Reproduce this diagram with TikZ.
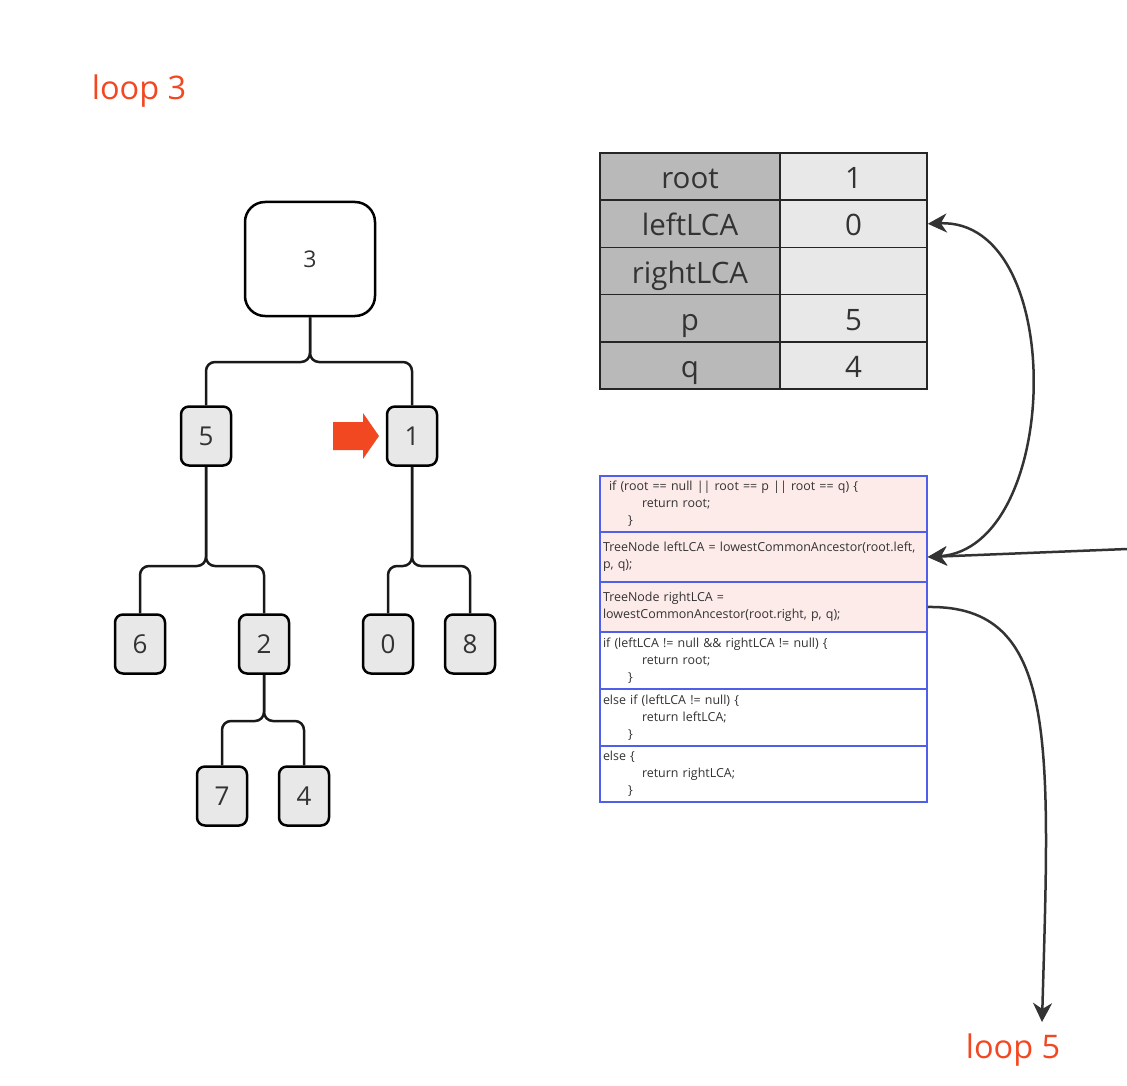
\documentclass[tikz,border=0pt]{standalone}
\usepackage{fontspec}
\setmainfont{Open Sans}
\usetikzlibrary{arrows.meta}
\definecolor{loopred}{HTML}{F24822}
\definecolor{nodegray}{HTML}{E8E8E8}
\definecolor{keygray}{HTML}{B9B9B9}
\definecolor{txt}{HTML}{333333}
\definecolor{pinkrow}{HTML}{FDEBEA}
\definecolor{codeblue}{HTML}{4F5FE8}
\definecolor{arrgray}{HTML}{333333}
\tikzset{
  tnode/.style={draw=black, line width=2.5pt, rounded corners=8pt, fill=nodegray,
    minimum width=50pt, minimum height=59pt, inner sep=0pt, text=txt,
    font=\fontsize{26}{30}\selectfont},
  rootnode/.style={tnode, rounded corners=20pt, fill=white, minimum width=130pt, minimum height=114pt,
    font=\fontsize{23}{26}\selectfont},
  branch/.style={draw=black!90, line width=2.5pt, rounded corners=9pt},
  kcell/.style={draw=black!85, line width=1.5pt, fill=keygray, minimum width=180pt, minimum height=47.2pt,
    inner sep=0pt, text=txt, font=\fontsize{29.5}{32}\selectfont, text height=30pt, text depth=6pt},
  vcell/.style={kcell, fill=nodegray, minimum width=147pt},
  crow/.style={draw=codeblue, line width=1.5pt, minimum width=327pt, text width=321pt, inner xsep=3pt,
    inner ysep=0pt, align=left, text=txt, font=\fontsize{12.45}{17}\selectfont},
  looplabel/.style={text=loopred, font=\fontsize{32.5}{36}\selectfont, inner sep=0pt},
  arr/.style={draw=arrgray, line width=2.5pt},
  >={Stealth[length=19pt, width=19pt, inset=6pt]}
}
\begin{document}
\begin{tikzpicture}[x=1pt,y=-1pt]
\useasboundingbox (0,0) rectangle (1127,1086);

% labels
\node[looplabel] (loop3) at (139,91) {loop 3};
\node[looplabel] (loop5) at (1013,1050) {loop 5};

% tree
\node[rootnode] (n3) at (310,259) {3};
\node[tnode] (n5) at (206,436) {5};
\node[tnode] (n1) at (412,436) {1};
\node[tnode] (n6) at (140,644) {6};
\node[tnode] (n2) at (264,644) {2};
\node[tnode] (n0) at (388,644) {0};
\node[tnode] (n8) at (470,644) {8};
\node[tnode] (n7) at (222,796) {7};
\node[tnode] (n4) at (304,796) {4};

\draw[branch] (n3.south) -- (310,362) -- (206,362) -- (n5.north);
\draw[branch] (n3.south) -- (310,362) -- (412,362) -- (n1.north);
\draw[branch] (n5.south) -- (206,566) -- (140,566) -- (n6.north);
\draw[branch] (n5.south) -- (206,566) -- (264,566) -- (n2.north);
\draw[branch] (n1.south) -- (412,566) -- (388,566) -- (n0.north);
\draw[branch] (n1.south) -- (412,566) -- (470,566) -- (n8.north);
\draw[branch] (n2.south) -- (264,721) -- (222,721) -- (n7.north);
\draw[branch] (n2.south) -- (264,721) -- (304,721) -- (n4.north);

% red pointer arrow
\fill[loopred] (333,422) -- (363,422) -- (363,413) -- (379,436) -- (363,459) -- (363,450) -- (333,450) -- cycle;

% variable table
\node[kcell] (k1) at (690,176.6) {root};
\node[vcell] (v1) at (853.5,176.6) {1};
\node[kcell] (k2) at (690,223.8) {leftLCA};
\node[vcell] (v2) at (853.5,223.8) {0};
\node[kcell] (k3) at (690,271) {rightLCA};
\node[vcell] (v3) at (853.5,271) {};
\node[kcell] (k4) at (690,318.2) {p};
\node[vcell] (v4) at (853.5,318.2) {5};
\node[kcell] (k5) at (690,365.4) {q};
\node[vcell] (v5) at (853.5,365.4) {4};

% code box
\node[crow, fill=pinkrow, minimum height=56pt] (c1) at (763.5,504) {\hspace*{6pt}if (root == null || root == p || root == q) \{\\\hspace*{39pt}return root;\\\hspace*{25pt}\}};
\node[crow, fill=pinkrow, minimum height=50pt] (c2) at (763.5,557) {TreeNode leftLCA = lowestCommonAncestor(root.left, p, q);};
\node[crow, fill=pinkrow, minimum height=50pt] (c3) at (763.5,607) {TreeNode rightLCA =\\lowestCommonAncestor(root.right, p, q);};
\node[crow, fill=white, minimum height=57pt] (c4) at (763.5,660.5) {if (leftLCA != null \&\& rightLCA != null) \{\\\hspace*{39pt}return root;\\\hspace*{25pt}\}};
\node[crow, fill=white, minimum height=57pt] (c5) at (763.5,717.5) {else if (leftLCA != null) \{\\\hspace*{39pt}return leftLCA;\\\hspace*{25pt}\}};
\node[crow, fill=white, minimum height=56pt] (c6) at (763.5,774) {else \{\\\hspace*{39pt}return rightLCA;\\\hspace*{25pt}\}};

% connectors
\coordinate (edgein) at (1127,549);
\coordinate (loop5top) at (1042,1022);
\draw[arr, <->] (v2.east) .. controls (1068,218) and (1062,548) .. (c2.east);
\draw[arr, ->] (edgein) -- (c2.east);
\draw[arr, ->] (c3.east) .. controls (1058,605) and (1050,740) .. (loop5top);
\end{tikzpicture}
\end{document}
